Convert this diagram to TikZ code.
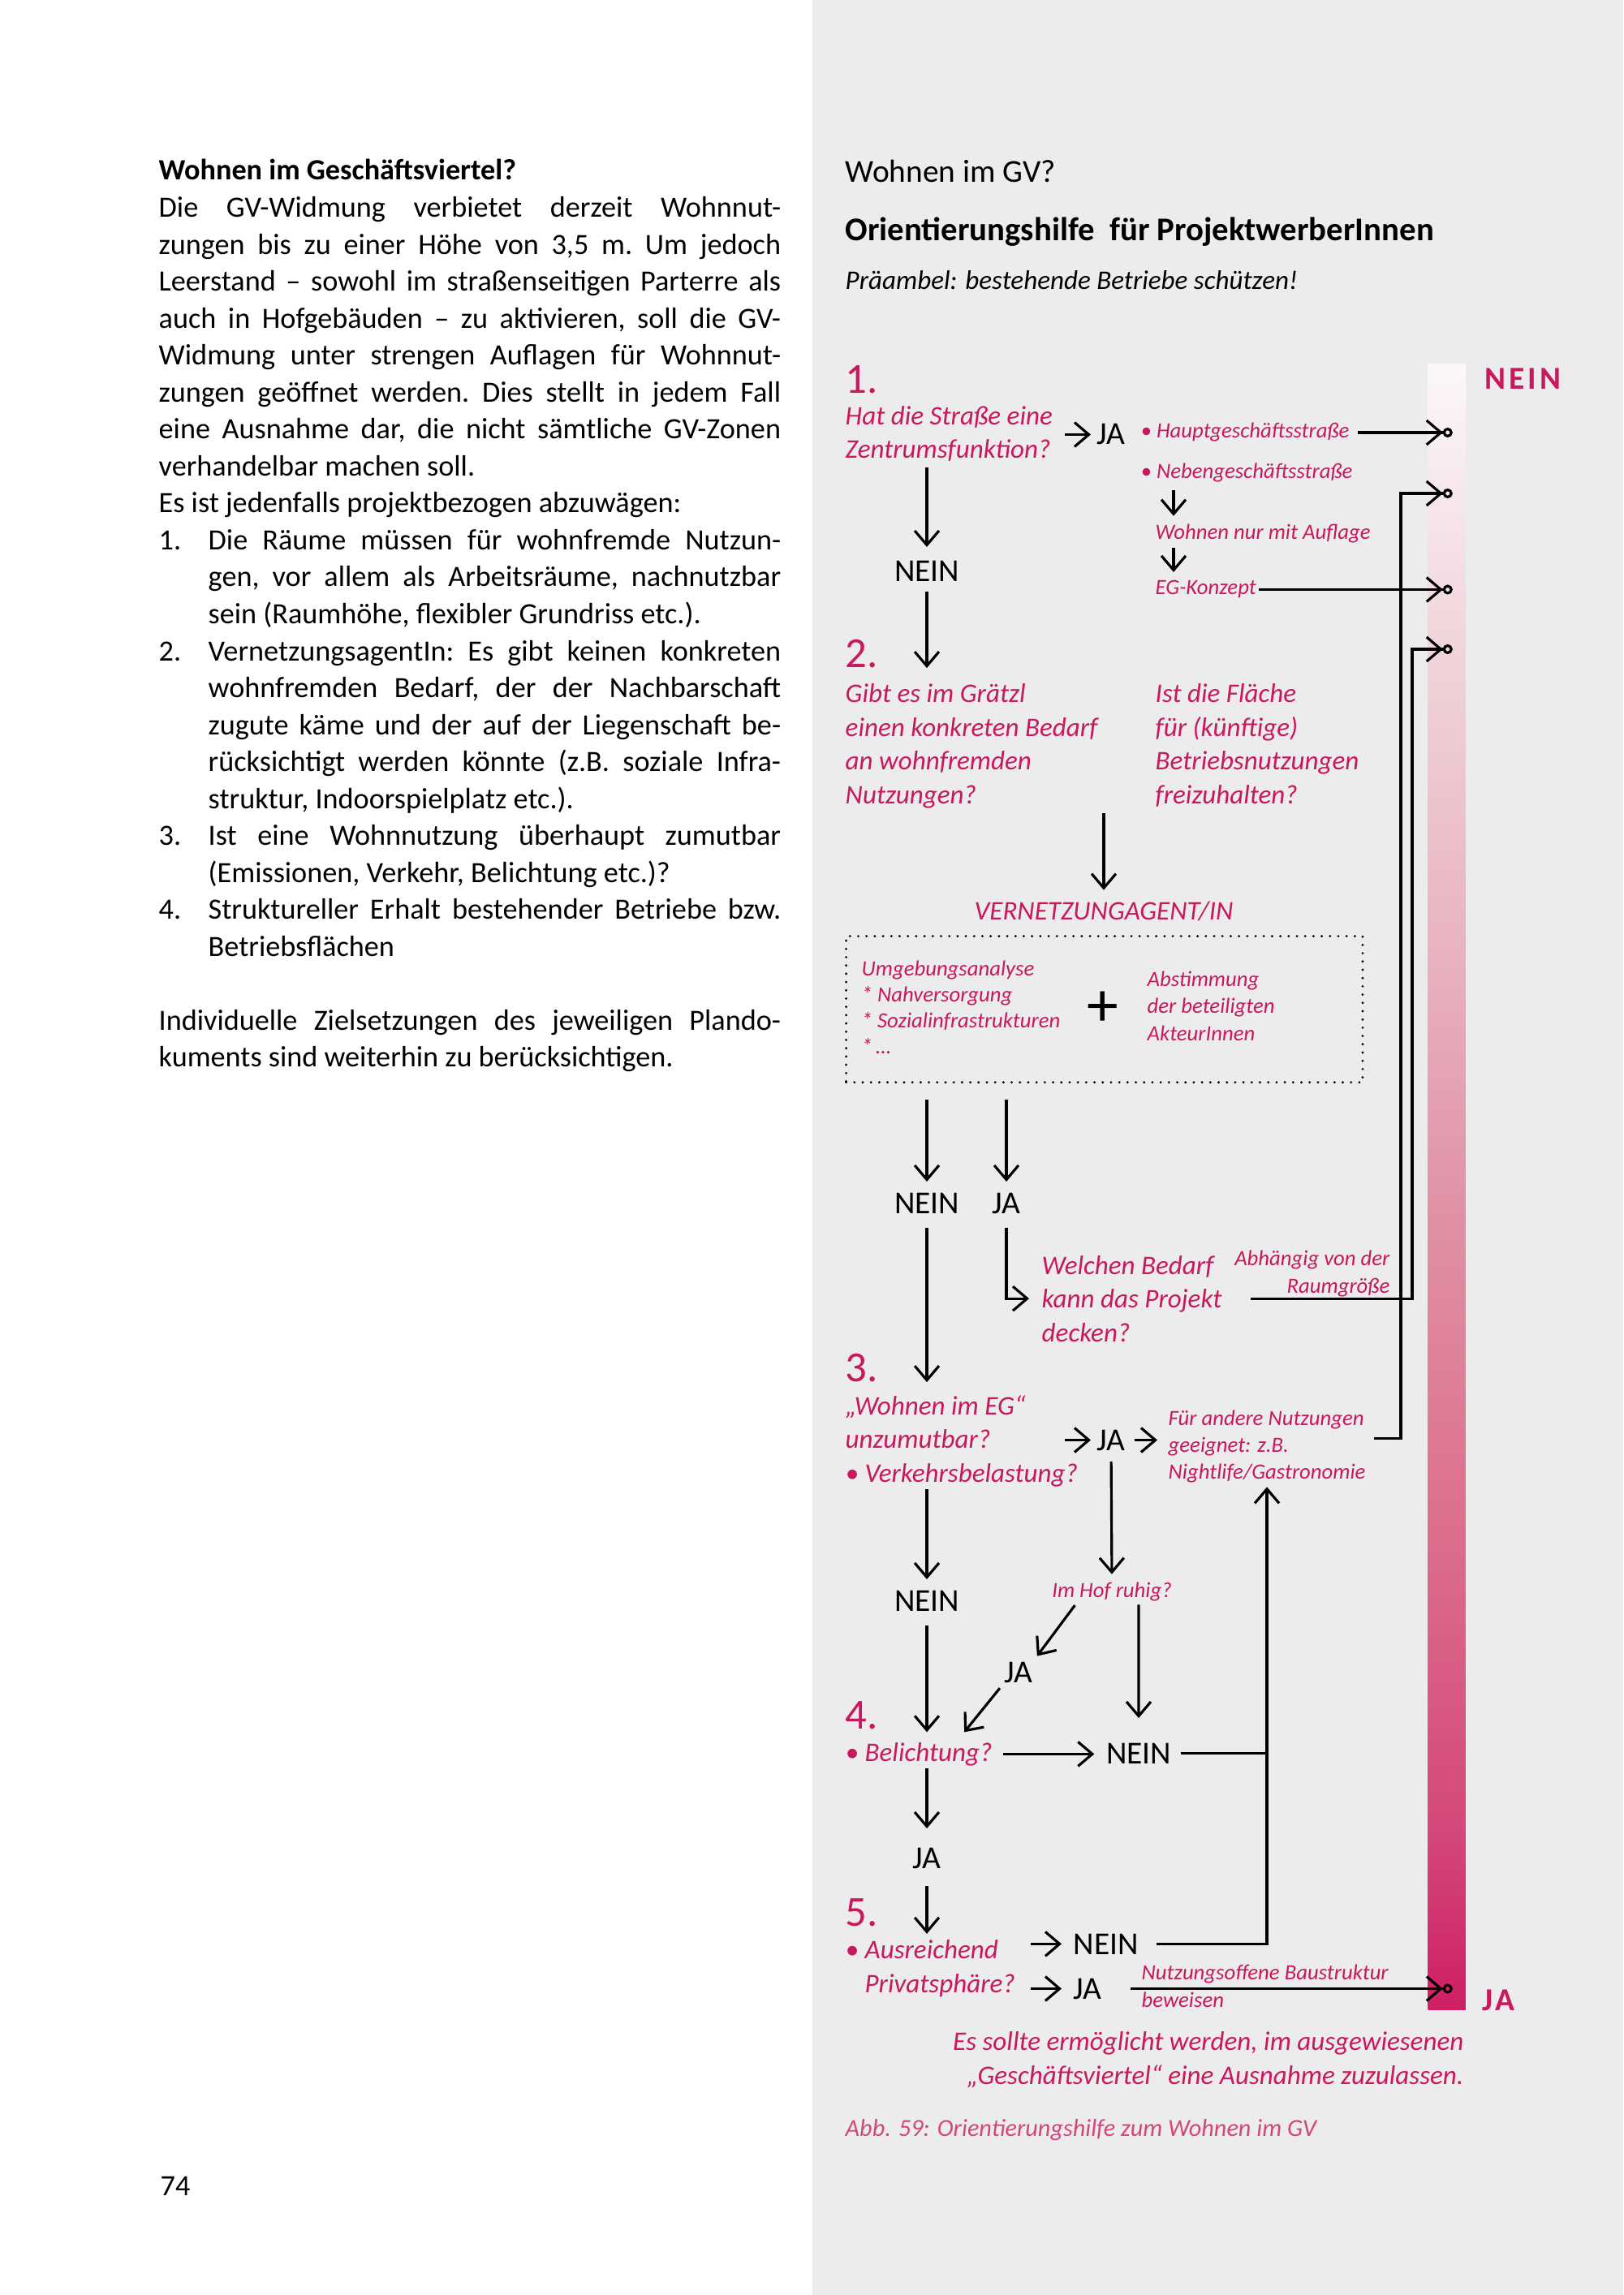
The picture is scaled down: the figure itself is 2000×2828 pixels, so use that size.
\documentclass[tikz,border=0pt]{standalone}
\usepackage{fontspec}
\setmainfont{Carlito}
\usetikzlibrary{arrows.meta,calc,positioning}
\definecolor{gvpink}{RGB}{200,24,94}
\definecolor{panelgrey}{RGB}{236,236,236}
\definecolor{barA}{RGB}{206,30,101}
\definecolor{barB}{RGB}{212,72,122}
\definecolor{barC}{RGB}{220,110,140}
\definecolor{barD}{RGB}{224,144,164}
\definecolor{barE}{RGB}{232,176,190}
\definecolor{barF}{RGB}{240,213,219}
\definecolor{barG}{RGB}{252,247,249}
\pgfdeclareverticalshading{gvbar}{100bp}{color(0bp)=(barA); color(25bp)=(barA); color(30.5bp)=(barB); color(39.5bp)=(barC); color(49bp)=(barD); color(56.5bp)=(barE); color(66.5bp)=(barF); color(75bp)=(barG); color(100bp)=(barG)}

\begin{document}
\begin{tikzpicture}[x=0.01cm, y=-0.01cm,
    question/.style={text=gvpink, font=\fontsize{9.4}{11.8}\selectfont\itshape, inner sep=0pt, align=left},
    hint/.style={text=gvpink, font=\fontsize{7.6}{9.3}\selectfont\itshape, inner sep=0pt, align=left},
    answer/.style={font=\fontsize{11.2}{13}\selectfont, inner sep=0pt},
    stepnum/.style={text=gvpink, font=\fontsize{15}{15}\selectfont, inner sep=0pt},
    arrow/.style={line width=0.9pt, -{Straight Barb[length=5pt,width=8.5pt]}},
    barrow/.style={line width=0.9pt, -{Straight Barb[length=5pt,width=8.5pt] Circle[open,length=3.4pt]}, shorten >=-0.07cm},
    conn/.style={line width=0.9pt}]

\useasboundingbox (0,0) rectangle (2000,2828);
\fill[panelgrey] (1001,0) rectangle (2000,2828);

\node[anchor=base west, inner sep=0pt, text width=7.66cm, align=justify,
      font=\fontsize{10.3}{12.95}\selectfont] (intro) at (195,222) {%
\hyphenpenalty=10000 \exhyphenpenalty=10000 \tolerance=10000 \parindent=0pt \frenchspacing
{\bfseries Wohnen im Geschäftsviertel?}\par
Die GV-Widmung verbietet derzeit Wohnnut-\linebreak zungen bis zu einer Höhe von 3,5~m. Um jedoch\linebreak Leerstand – sowohl im straßenseitigen Parterre als\linebreak auch in Hofgebäuden – zu aktivieren, soll die GV-\linebreak Widmung unter strengen Auflagen für Wohnnut-\linebreak zungen geöffnet werden. Dies stellt in jedem Fall\linebreak eine Ausnahme dar, die nicht sämtliche GV-Zonen\linebreak verhandelbar machen soll.\par
Es ist jedenfalls projektbezogen abzuwägen:\par
\hangindent=0.61cm\hangafter=1\makebox[0.61cm][l]{1.}Die Räume müssen für wohnfremde Nutzun-\linebreak gen, vor allem als Arbeitsräume, nachnutzbar\linebreak sein (Raumhöhe, flexibler Grundriss etc.).\par
\hangindent=0.61cm\hangafter=1\makebox[0.61cm][l]{2.}VernetzungsagentIn: Es gibt keinen konkreten\linebreak wohnfremden Bedarf, der der Nachbarschaft\linebreak zugute käme und der auf der Liegenschaft be-\linebreak rücksichtigt werden könnte (z.B. soziale Infra-\linebreak struktur, Indoorspielplatz etc.).\par
\hangindent=0.61cm\hangafter=1\makebox[0.61cm][l]{3.}Ist eine Wohnnutzung überhaupt zumutbar\linebreak (Emissionen, Verkehr, Belichtung etc.)?\par
\hangindent=0.61cm\hangafter=1\makebox[0.61cm][l]{4.}Struktureller Erhalt bestehender Betriebe bzw.\linebreak Betriebsflächen\par
\vskip\baselineskip
Individuelle Zielsetzungen des jeweiligen Plando-\linebreak kuments sind weiterhin zu berücksichtigen.\par};

\node[anchor=base west, inner sep=0pt, font=\fontsize{10.3}{12}\selectfont] (pagenum) at (197,2705) {74};

\node[anchor=base west, inner sep=0pt, font=\fontsize{11.2}{13}\selectfont] (head) at (1041,225) {Wohnen im GV?};
\node[anchor=base west, inner sep=0pt, font=\fontsize{11.6}{13}\selectfont\bfseries] (subhead) at (1041,297) {Orientierungshilfe\ \ für ProjektwerberInnen};
\node[anchor=base west, inner sep=0pt, font=\fontsize{9.4}{11}\selectfont\itshape] (pream) at (1041,357) {Präambel: bestehende Betriebe schützen!};

\node[shade, shading=gvbar, inner sep=0pt, minimum width=0.46cm, minimum height=20.27cm, anchor=north west] (bar) at (1759,448) {};
\node[anchor=base west, inner sep=0pt, text=gvpink, font=\fontsize{11.2}{13}\selectfont\bfseries\addfontfeatures{LetterSpace=10}] (neinlabel) at (1829,480) {NEIN};
\node[anchor=base west, inner sep=0pt, text=gvpink, font=\fontsize{11.2}{13}\selectfont\bfseries\addfontfeatures{LetterSpace=10}] (jalabel) at (1826,2477) {JA};

\node[stepnum, anchor=base west] (num1) at (1041,485) {1.};
\node[question, anchor=base west] (q1) at (1041,565) {Hat die Straße eine\\Zentrumsfunktion?};
\node[answer, anchor=base west] (ja1) at (1351,548) {JA};
\node[hint, anchor=base west] (haupt) at (1405,540) {\textbullet\ Hauptgeschäftsstraße};
\node[hint, anchor=base west] (neben) at (1405,590) {\textbullet\ Nebengeschäftsstraße};
\node[hint, anchor=base west] (auflage) at (1423,665) {Wohnen nur mit Auflage};
\node[hint, anchor=base west] (egkonzept) at (1423,733) {EG-Konzept};
\node[answer, anchor=base] (nein1) at (1142,717) {NEIN};
\coordinate (aufx) at ($(auflage.west)+(23,0)$);

\draw[arrow, shorten <=0.14cm, shorten >=0.07cm] (q1.east |- ja1.west) -- (ja1.west);
\draw[barrow, shorten <=0.1cm] (haupt.east) -- (haupt.east -| bar);
\draw[arrow, shorten <=0.09cm, shorten >=0.1cm] (aufx |- neben.south) -- (aufx |- auflage.north);
\draw[arrow, shorten <=0.05cm, shorten >=0.1cm] (aufx |- auflage.south) -- (aufx |- egkonzept.north);
\draw[barrow, shorten <=0.02cm] (egkonzept.east) -- (egkonzept.east -| bar);
\draw[arrow, shorten <=0.06cm, shorten >=0.17cm] (q1.south -| nein1) -- (nein1.north);

\node[stepnum, anchor=base west] (num2) at (1041,822) {2.};
\draw[arrow, shorten <=0.11cm] (nein1.south) -- (nein1 |- num2.south);
\node[question, anchor=base west] (q2) at (1041,990) {Gibt es im Grätzl\\einen konkreten Bedarf\\an wohnfremden\\Nutzungen?};
\node[question, anchor=base west] (q2b) at (1423,990) {Ist die Fläche\\für (künftige)\\Betriebsnutzungen\\freizuhalten?};
\node[question, anchor=base] (agentlabel) at (1360,1133) {VERNETZUNGAGENT/IN};
\draw[arrow, shorten <=0.06cm, shorten >=0.13cm] (q2.south -| agentlabel) -- (agentlabel.north);

\node[draw, dash pattern=on 0pt off 2.9pt, line cap=round, line width=0.9pt, inner sep=0pt,
      minimum width=6.36cm, minimum height=1.8cm, anchor=north west] (agentbox) at (1041,1152) {};
\node[hint, anchor=base west, font=\fontsize{7.6}{9.1}\selectfont\itshape] (umgebung) at (1061,1298) {Umgebungsanalyse\\* Nahversorgung\\* Sozialinfrastrukturen\\*\,…};
\node[inner sep=0pt, font=\fontsize{22}{22}\selectfont] (plus) at (1359,1243) {+};
\node[hint, anchor=base west, font=\fontsize{7.6}{9.5}\selectfont\itshape] (abstimmung) at (1413,1282) {Abstimmung\\der beteiligten\\AkteurInnen};

\node[answer, anchor=base] (nein2) at (1142,1495) {NEIN};
\node[answer, anchor=base] (ja2) at (1240,1495) {JA};
\draw[arrow, shorten <=0.2cm, shorten >=0.13cm] (agentbox.south -| nein2) -- (nein2.north);
\draw[arrow, shorten <=0.2cm, shorten >=0.13cm] (agentbox.south -| ja2) -- (ja2.north);

\node[question, anchor=base west] (bedarf) at (1283,1653) {Welchen Bedarf\\kann das Projekt\\decken?};
\node[hint, anchor=base east, align=right, font=\fontsize{7.6}{9.4}\selectfont\itshape] (raum) at (1713,1593) {Abhängig von der\\Raumgröße};
\coordinate (riseb) at (1740,800);
\draw[arrow, shorten <=0.17cm, shorten >=0.15cm] (ja2.south) |- (bedarf.west);
\draw[barrow, shorten <=0.35cm] (bedarf.east) -| (riseb) -- (riseb -| bar);

\node[stepnum, anchor=base west] (num3) at (1041,1702) {3.};
\draw[arrow, shorten <=0.17cm] (nein2.south) -- (nein2 |- num3.south);
\node[question, anchor=base west] (q3) at (1041,1826) {„Wohnen im EG“\\unzumutbar?\\\textbullet\ Verkehrsbelastung?};
\node[answer, anchor=base west] (ja3) at (1351,1787) {JA};
\node[hint, anchor=base west, font=\fontsize{7.6}{9.25}\selectfont\itshape] (andere) at (1439,1822) {Für andere Nutzungen\\geeignet: z.B.\\Nightlife/Gastronomie};
\coordinate (risea) at (1726,608);
\draw[arrow, shorten >=0.07cm] ([xshift=-0.39cm]ja3.west) -- (ja3.west);
\draw[arrow, shorten <=0.11cm, shorten >=0.13cm] (ja3.east) -- (ja3.east -| andere.west);
\draw[barrow, shorten <=0.1cm] ([yshift=0.1cm]andere.east) -| (risea) -- (risea -| bar);

\node[hint, anchor=base] (hof) at (1370,1968) {Im Hof ruhig?};
\draw[arrow, shorten <=0.13cm, shorten >=0.09cm] (ja3.south) -- (hof.north);
\node[answer, anchor=base] (nein3) at (1142,1985) {NEIN};
\draw[arrow, shorten <=0.03cm, shorten >=0.13cm] (q3.south -| nein3) -- (nein3.north);
\node[answer, anchor=base] (jahof) at (1255,2073) {JA};
\node[answer, anchor=base] (neinhof) at (1403,2173) {NEIN};

\node[stepnum, anchor=base west] (num4) at (1041,2130) {4.};
\node[question, anchor=base west] (bel) at (1041,2170) {\textbullet\ Belichtung?};
\draw[arrow, shorten <=0.06cm, shorten >=0.08cm] ([xshift=-0.42cm]hof.south) -- (jahof.north east);
\draw[arrow, shorten <=0.08cm] (jahof.south west) -- ($(bel.north east)+(-35,-12)$);
\draw[arrow, shorten <=0.04cm, shorten >=0.3cm] ([xshift=0.33cm]hof.south) -- (neinhof.north);
\draw[arrow, shorten <=0.17cm, shorten >=0.12cm] (nein3.south) -- (nein3.south |- bel.north);
\draw[arrow, shorten <=0.13cm, shorten >=0.14cm] (bel.east) -- (bel.east -| neinhof.west);
\draw[conn, shorten <=0.11cm] (neinhof.east) -- (neinhof.east -| andere.south);

\node[answer, anchor=base] (ja4) at (1142,2302) {JA};
\draw[arrow, shorten <=0.03cm, shorten >=0.23cm] (bel.south -| ja4) -- (ja4.north);

\node[stepnum, anchor=base west] (num5) at (1041,2373) {5.};
\node[question, anchor=base west] (q5) at (1041,2455) {\textbullet\ Ausreichend\\\phantom{\textbullet\ }Privatsphäre?};
\draw[arrow, shorten <=0.21cm, shorten >=0.07cm] (ja4.south) -- (ja4.south |- q5.north);
\node[answer, anchor=base west] (nein5) at (1322,2408) {NEIN};
\node[answer, anchor=base west] (ja5) at (1322,2463) {JA};
\draw[arrow, shorten <=0.19cm, shorten >=0.14cm] (q5.east |- nein5.west) -- (nein5.west);
\draw[arrow, shorten <=0.19cm, shorten >=0.14cm] (q5.east |- ja5.west) -- (ja5.west);
\draw[arrow, shorten <=0.22cm, shorten >=0.05cm] (nein5.east) -| (andere.south);
\draw[barrow, shorten <=0.35cm] (ja5.east) -- (ja5.east -| bar);
\node[hint, anchor=base west, font=\fontsize{7.6}{9.4}\selectfont\itshape] (offen) at (1406,2473) {Nutzungsoffene Baustruktur\\beweisen};

\node[question, anchor=base east, align=right] (fazit) at (1804,2568) {Es sollte ermöglicht werden, im ausgewiesenen\\„Geschäftsviertel“ eine Ausnahme zuzulassen.};
\node[anchor=base west, inner sep=0pt, text=gvpink!80, font=\fontsize{8.6}{10}\selectfont\itshape] (caption) at (1041,2632) {Abb. 59: Orientierungshilfe zum Wohnen im GV};

\end{tikzpicture}
\end{document}
